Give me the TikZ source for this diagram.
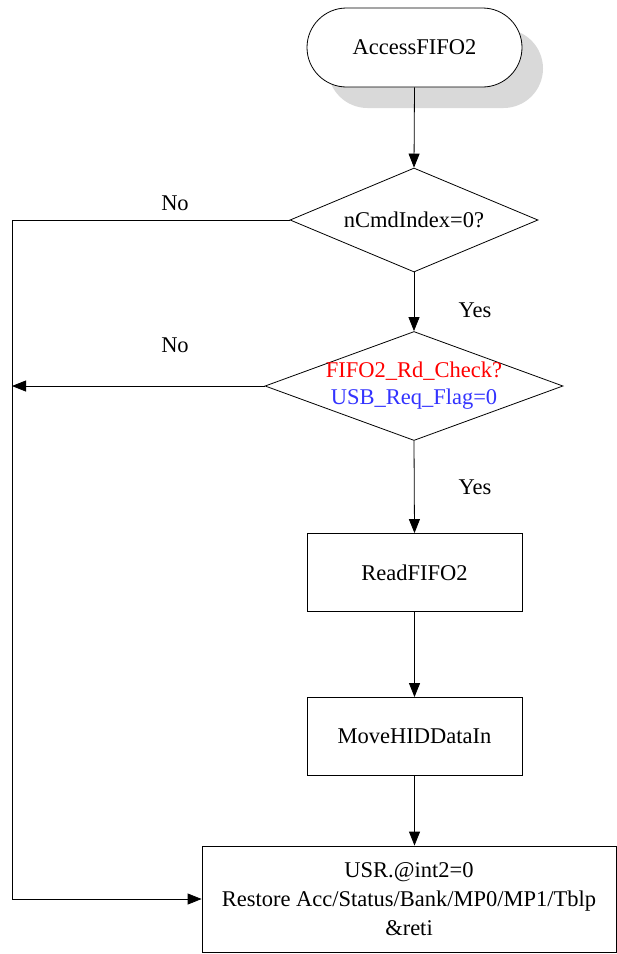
\documentclass[tikz,border=0pt]{standalone}
\usepackage{fontspec}
\setmainfont{Liberation Serif}
\usetikzlibrary{arrows.meta,shapes.geometric}
\definecolor{shadowgray}{RGB}{217,217,217}
\definecolor{qred}{RGB}{255,0,0}
\definecolor{qblue}{RGB}{51,51,255}
\begin{document}
\begin{tikzpicture}[x=1pt,y=1pt, font=\fontsize{22.5}{27}\selectfont, line width=0.8pt,
  box/.style={draw, rectangle, inner sep=0pt, align=center},
  dia/.style={draw, diamond, inner sep=0pt},
  term/.style={rectangle, rounded corners=39.5pt, minimum width=215pt, minimum height=79pt, inner sep=0pt},
  arr/.style={-{Triangle[length=14pt,width=11pt]}},
  lbl/.style={inner sep=0pt},
]
\useasboundingbox (0,0) rectangle (617,-954);
% terminator with shadow
\node[term, fill=shadowgray] (tshadow) at (435.5,-68.5) {};
\node[term, draw, fill=white] (start) at (414.5,-47.5) {AccessFIFO2};
% decision 1
\node[dia, minimum width=248pt, minimum height=104pt] (d1) at (414,-220) {};
\node[lbl] (d1t) at (d1) {nCmdIndex=0?};
% decision 2
\node[dia, minimum width=298pt, minimum height=109pt] (d2) at (414,-386) {};
\node[lbl, align=center] (d2t) at (d2) {\textcolor{qred}{FIFO2\_Rd\_Check?}\\\textcolor{qblue}{USB\_Req\_Flag=0}};
% process boxes
\node[box, minimum width=215pt, minimum height=78pt] (read) at (414.5,-572.5) {ReadFIFO2};
\node[box, minimum width=215pt, minimum height=78pt] (move) at (414.5,-736.5) {MoveHIDDataIn};
\node[box, minimum width=414pt, minimum height=106pt, font=\fontsize{22.5}{29}\selectfont] (end) at (409,-899) {USR.@int2=0\\Restore Acc/Status/Bank/MP0/MP1/Tblp\\\&reti};
% labels
\node[lbl] (no1) at (175,-203) {No};
\node[lbl] (no2) at (175,-345) {No};
\node[lbl] (yes1) at (475,-310) {Yes};
\node[lbl] (yes2) at (475,-487) {Yes};
% coordinates
\coordinate (c1) at (12,-220);
\coordinate (c2) at (12,-386);
% connectors
\draw[arr] (start.south) -- (d1.north);
\draw[arr] (d1.south) -- (d2.north);
\draw[arr] (d2.south) -- (read.north);
\draw[arr] (read.south) -- (move.north);
\draw[arr] (move.south) -- (end.north -| move.south);
\draw[arr] (d1.west) -- (c1) |- (end.west);
\draw[arr] (d2.west) -- (c2);
\end{tikzpicture}
\end{document}
